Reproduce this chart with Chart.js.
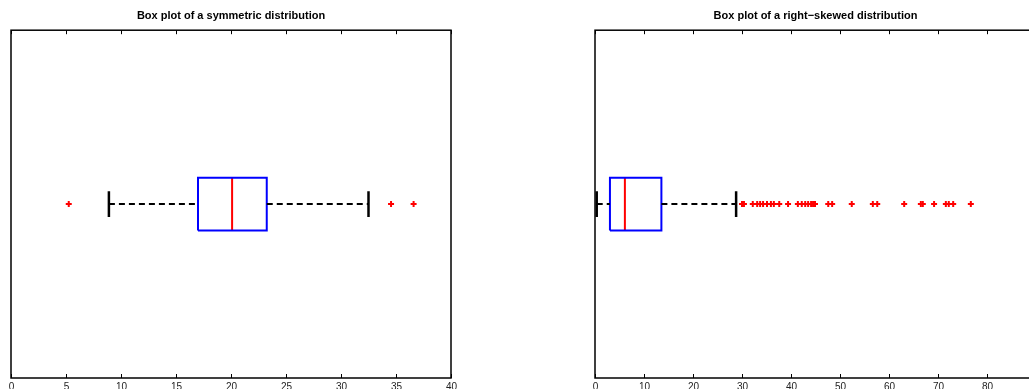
<!DOCTYPE html>
<html>
<head>
<meta charset="utf-8">
<script src="https://cdn.jsdelivr.net/npm/chart.js@4.4.1/dist/chart.umd.min.js"></script>
<style>
  html, body { margin: 0; padding: 0; background: #fff; overflow: hidden; }
  #wrap { position: relative; width: 1029px; height: 389px; overflow: hidden; }
  canvas { position: absolute; top: 0; }
  #symChart { left: 0; }
  #skewChart { left: 520px; }
</style>
</head>
<body>
<div id="wrap">
  <canvas id="symChart" width="470" height="400"></canvas>
  <canvas id="skewChart" width="530" height="400"></canvas>
</div>
<script>
// box stats: [lower whisker, Q1, median, Q3, upper whisker]
const symTitle = "Box plot of a symmetric distribution";
const symStats = [8.9, 17.0, 20.1, 23.25, 32.5];
const symOutliers = [5.25, 34.55, 36.6];
const symTicks = [0, 5, 10, 15, 20, 25, 30, 35, 40];

const skewTitle = "Box plot of a right\u2212skewed distribution";
const skewStats = [0.35, 3.05, 6.1, 13.55, 28.8];
const skewOutliers = [
  30.0, 30.4, 32.2, 33.1, 33.7, 34.3, 35.1, 35.9, 36.5, 37.6, 39.4,
  41.4, 42.2, 42.9, 43.5, 44.1, 44.5, 44.9, 47.6, 48.4, 52.4,
  56.7, 57.6, 63.1, 66.5, 66.9, 69.2, 71.6, 72.2, 73.1, 76.7
];
const skewTicks = [0, 10, 20, 30, 40, 50, 60, 70, 80, 90];

const BOX_H = 0.076;  // half height of the box (y units)
const CAP_H = 0.037;  // half height of whisker caps
const FONT = "'Liberation Sans', Arial, sans-serif";

// frame around the plot area, inward tick marks and tick labels, matlab style
const framePlugin = {
  id: "frame",
  afterDraw(chart) {
    const { ctx, chartArea: a, scales } = chart;
    const x = scales.x;
    ctx.save();
    ctx.strokeStyle = "#000";
    ctx.lineWidth = 1.5;
    ctx.strokeRect(a.left, a.top, a.right - a.left, a.bottom - a.top);
    ctx.lineWidth = 1;
    ctx.fillStyle = "#222";
    ctx.font = "10px " + FONT;
    ctx.textAlign = "center";
    ctx.textBaseline = "top";
    x.ticks.forEach((t) => {
      const px = Math.round(x.getPixelForValue(t.value)) + 0.5;
      ctx.beginPath();
      ctx.moveTo(px, a.top);
      ctx.lineTo(px, a.top + 4);
      ctx.moveTo(px, a.bottom);
      ctx.lineTo(px, a.bottom - 4);
      ctx.stroke();
      ctx.fillText(String(t.value), px, a.bottom + 4);
    });
    ctx.restore();
  },
};

function boxDatasets(stats, outliers) {
  const [lo, q1, med, q3, hi] = stats;
  const line = (data, color, width, dash) => ({
    data: data,
    showLine: true,
    borderColor: color,
    borderWidth: width,
    borderDash: dash || [],
    pointRadius: 0,
    fill: false,
  });
  return [
    line([{ x: lo, y: 1 }, { x: q1, y: 1 }], "#000", 2, [6, 4]),
    line([{ x: q3, y: 1 }, { x: hi, y: 1 }], "#000", 2, [6, 4]),
    line([{ x: lo, y: 1 - CAP_H }, { x: lo, y: 1 + CAP_H }], "#000", 2.5),
    line([{ x: hi, y: 1 - CAP_H }, { x: hi, y: 1 + CAP_H }], "#000", 2.5),
    line([
      { x: q1, y: 1 - BOX_H }, { x: q3, y: 1 - BOX_H },
      { x: q3, y: 1 + BOX_H }, { x: q1, y: 1 + BOX_H },
      { x: q1, y: 1 - BOX_H },
    ], "#0000ff", 2),
    line([{ x: med, y: 1 - BOX_H }, { x: med, y: 1 + BOX_H }], "#ff0000", 2),
    {
      data: outliers.map((v) => ({ x: v, y: 1 })),
      showLine: false,
      pointStyle: "cross",
      pointRadius: 3,
      pointBorderWidth: 2,
      pointBorderColor: "#ff0000",
      pointBackgroundColor: "#ff0000",
    },
  ];
}

function makeChart(id, title, stats, outliers, ticks, padLeft, padRight) {
  return new Chart(document.getElementById(id), {
    type: "scatter",
    data: { datasets: boxDatasets(stats, outliers) },
    options: {
      responsive: false,
      animation: false,
      layout: { padding: { left: padLeft, right: padRight, top: 0, bottom: 14 } },
      plugins: {
        legend: { display: false },
        tooltip: { enabled: false },
        title: {
          display: true,
          text: title,
          fullSize: false,
          color: "#000",
          font: { family: FONT, size: 11, weight: "bold" },
          padding: { top: 9, bottom: 8 },
        },
      },
      scales: {
        x: {
          type: "linear",
          min: ticks[0],
          max: ticks[ticks.length - 1],
          afterBuildTicks: (axis) => {
            axis.ticks = ticks.map((v) => ({ value: v }));
          },
          grid: { display: false },
          border: { display: false },
          ticks: { display: false },
        },
        y: { min: 0.5, max: 1.5, display: false },
      },
    },
    plugins: [framePlugin],
  });
}

makeChart("symChart", symTitle, symStats, symOutliers, symTicks, 11, 19);
makeChart("skewChart", skewTitle, skewStats, skewOutliers, skewTicks, 75, 14);
</script>
</body>
</html>
